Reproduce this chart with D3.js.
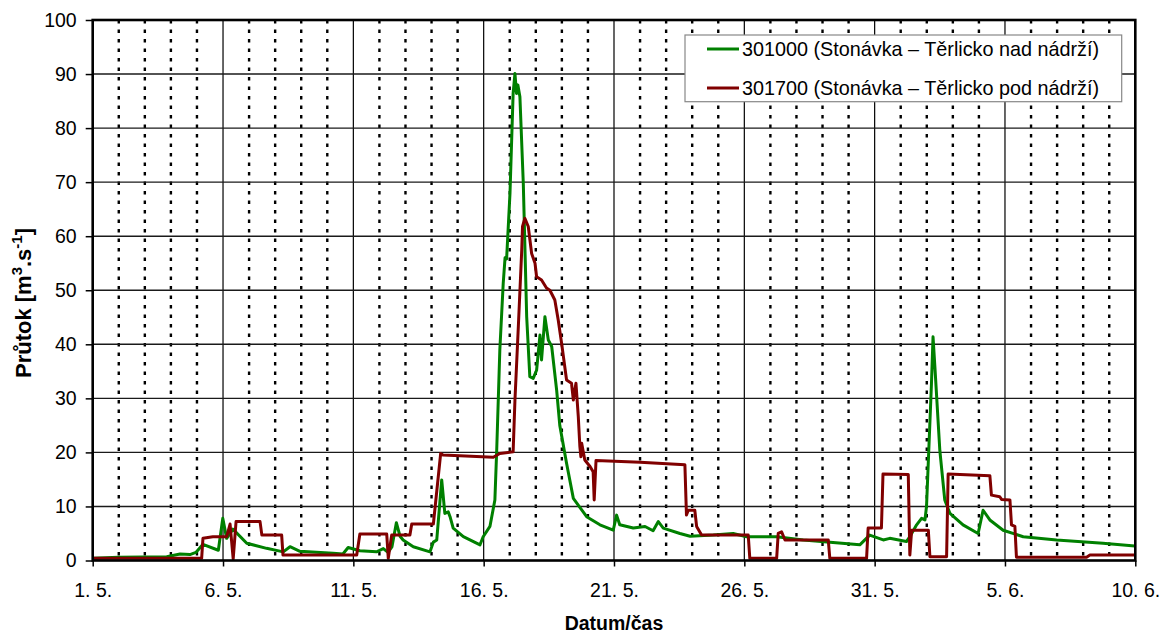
<!DOCTYPE html>
<html>
<head>
<meta charset="utf-8">
<script src="https://cdn.jsdelivr.net/npm/d3@7"></script>
<style>
    body { margin: 0; background: #fff; }
    text { font-family: Arial, "Liberation Sans", sans-serif; fill: #000; }
</style>
</head>
<body>
<div class="prutok"><svg></svg></div>
<script>
// days counted from 1. 5. (0) to 10. 6. (40)
let dayTicks = [0, 5, 10, 15, 20, 25, 30, 35, 40];
let dayLabels = ["1. 5.", "6. 5.", "11. 5.", "16. 5.", "21. 5.", "26. 5.", "31. 5.", "5. 6.", "10. 6."];
let yTicks = [0, 10, 20, 30, 40, 50, 60, 70, 80, 90, 100];

let seriesNames = ["301000 (Stonávka – Těrlicko nad nádrží)", "301700 (Stonávka – Těrlicko pod nádrží)"];
let seriesColors = ["#008000", "#800000"];

// 301000 nad nádrží
let greenDay = [0, 1, 2.84, 3.35, 3.73, 3.96, 4.23, 4.82, 4.99, 5.14, 5.38, 5.91, 6.67, 7.31, 7.57, 7.95, 9.22, 9.6, 9.8, 10.25,
    10.89, 11.15, 11.33, 11.48, 11.65, 11.79, 11.91, 12.3, 12.94, 13.07, 13.2, 13.39, 13.51, 13.64, 13.71, 13.83, 14.22, 14.86,
    14.98, 15.24, 15.43, 15.5, 15.62, 15.75, 15.82, 15.88, 16.01, 16.13, 16.2, 16.26, 16.31, 16.39, 16.52, 16.65, 16.77, 16.9,
    17.03, 17.16, 17.22, 17.35, 17.48, 17.61, 17.8, 17.92, 18.18, 18.44, 18.95, 19.46, 19.97, 20.1, 20.22, 20.74, 21.19, 21.5,
    21.7, 21.89, 22.53, 22.92, 23.81, 24.57, 25.09, 26.24, 27.26, 29.43, 29.81, 30.33, 30.58, 31.22, 31.35, 31.61, 31.8, 31.93,
    31.99, 32.18, 32.24, 32.31, 32.5, 32.69, 32.89, 33.39, 33.97, 34.16, 34.42, 34.93, 35.7, 36.98, 38.76, 39.98];
let greenQ = [0.4, 0.6, 0.7, 1.2, 1.1, 1.5, 3.0, 1.9, 7.8, 4.1, 5.8, 3.2, 2.25, 1.6, 2.55, 1.7, 1.35, 1.2, 2.4, 1.8,
    1.6, 2.2, 1.5, 2.5, 7.0, 4.5, 3.8, 2.55, 1.6, 3.4, 3.8, 14.9, 8.7, 9.0, 8.1, 6.0, 4.4, 2.9,
    4.4, 6.3, 11.2, 20.4, 39, 51.3, 56, 55.8, 68, 86.4, 90.1, 86.4, 88, 85.8, 69.8, 45.1, 34, 33.7,
    35.2, 41.7, 37.1, 45.1, 40.8, 39.6, 31.5, 25, 18, 11.5, 8.1, 6.6, 5.6, 8.4, 6.6, 6.0, 6.3, 5.5,
    7.2, 6.0, 5.0, 4.5, 4.7, 5.0, 4.4, 4.4, 3.8, 2.9, 4.7, 3.8, 4.1, 3.5, 4.4, 6.6, 7.8, 7.5,
    10, 32.8, 41.4, 35.9, 20.4, 11.2, 8.7, 6.6, 5.0, 9.3, 7.5, 5.6, 4.4, 3.8, 3.2, 2.7];

// 301700 pod nádrží
let redDay = [0, 4.18, 4.23, 4.61, 5.14, 5.27, 5.39, 5.5, 6.42, 6.49, 7.25, 7.3, 10.13, 10.25, 11.28, 11.34, 11.47, 12.17,
    12.24, 13.07, 13.35, 13.44, 15.37, 15.62, 16.13, 16.2, 16.33, 16.46, 16.49, 16.58, 16.71, 16.84, 16.97, 17.03, 17.22,
    17.41, 17.54, 17.73, 17.86, 17.99, 18.18, 18.37, 18.44, 18.54, 18.63, 18.69, 18.73, 18.76, 18.88, 19.08, 19.2, 19.24,
    19.31, 21.0, 22.72, 22.78, 22.85, 23.1, 23.17, 23.36, 25.15, 25.21, 26.24, 26.3, 26.43, 26.56, 28.22, 28.28, 29.69,
    29.75, 30.26, 30.32, 31.29, 31.35, 31.42, 32.06, 32.12, 32.76, 32.82, 34.42, 34.48, 34.8, 34.87, 35.19, 35.25, 35.38,
    35.44, 38.13, 38.26, 39.98];
let redQ = [0.4, 0.4, 4.1, 4.4, 4.4, 6.75, 0.3, 7.2, 7.2, 4.7, 4.7, 1.0, 1.0, 4.9, 4.9, 0.4, 4.7, 4.7,
    6.75, 6.75, 19.8, 19.5, 19.1, 19.8, 20.1, 29.7, 43.3, 57.4, 61.8, 63.3, 61.8, 56.8, 55, 52.5, 51.9,
    50.4, 50, 48.2, 44.5, 40.2, 33.4, 32.8, 29.7, 32.8, 26.6, 21.1, 19.2, 21.7, 18.6, 17.4, 16.4, 11.2,
    18.5, 18.2, 17.7, 8.4, 9.3, 9.3, 6.3, 4.7, 4.7, 0.4, 0.4, 5.0, 5.3, 3.8, 3.8, 0.4, 0.4,
    6.0, 6.0, 16.0, 15.9, 1.0, 5.6, 5.6, 0.7, 0.7, 16.0, 15.7, 12.1, 11.8, 11.3, 11.2, 6.6, 6.3,
    0.6, 0.6, 1.0, 1.0];

let svgWidth = 1167;
let svgHeight = 635;
let margin = {left: 92.7, right: 31.7, top: 20, bottom: 74.5};

let svg = d3.select(".prutok").select("svg")
    .attr("width", svgWidth)
    .attr("height", svgHeight);

//Scale
let xScale = d3.scaleLinear()
    .domain([0, 40])
    .range([margin.left, svgWidth - margin.right]);

let yScale = d3.scaleLinear()
    .domain([0, 100])
    .range([svgHeight - margin.bottom, margin.top]);

let plotW = xScale(40) - xScale(0);
let plotH = yScale(0) - yScale(100);

//Grid
svg.append("g")
    .selectAll("line")
    .data(d3.range(1, 40).filter(function(d){ return d % 5 != 0; }))
    .enter()
    .append("line")
    .attr("x1", function(d){ return xScale(d); })
    .attr("x2", function(d){ return xScale(d); })
    .attr("y1", yScale(100))
    .attr("y2", yScale(0))
    .attr("stroke", "#000")
    .attr("stroke-width", 2.4)
    .attr("stroke-dasharray", "3.4,6.1");

svg.append("g")
    .selectAll("line")
    .data(dayTicks.slice(1, -1))
    .enter()
    .append("line")
    .attr("x1", function(d){ return xScale(d); })
    .attr("x2", function(d){ return xScale(d); })
    .attr("y1", yScale(100))
    .attr("y2", yScale(0))
    .attr("stroke", "#000")
    .attr("stroke-width", 1.2);

svg.append("g")
    .selectAll("line")
    .data(yTicks.slice(1, -1))
    .enter()
    .append("line")
    .attr("x1", xScale(0))
    .attr("x2", xScale(40))
    .attr("y1", function(d){ return yScale(d); })
    .attr("y2", function(d){ return yScale(d); })
    .attr("stroke", "#1a1a1a")
    .attr("stroke-width", 1.4);

//Lines
let line = d3.line()
    .x(function(d){ return xScale(d[0]); })
    .y(function(d){ return yScale(d[1]); });

let series = [
    d3.zip(greenDay, greenQ),
    d3.zip(redDay, redQ)
];

// green first, red drawn over it like in the original
series.forEach(function(s, i){
    svg.append("path")
        .datum(s)
        .attr("fill", "none")
        .attr("stroke", seriesColors[i])
        .attr("stroke-width", 3)
        .attr("stroke-linejoin", "round")
        .attr("d", line);
});

//Axis
let xAxis = d3.axisBottom()
    .scale(xScale)
    .tickValues(dayTicks)
    .tickSize(6)
    .tickPadding(17)
    .tickFormat(function(d, i){ return dayLabels[i]; });

let yAxis = d3.axisLeft()
    .scale(yScale)
    .tickValues(yTicks)
    .tickSize(7)
    .tickPadding(9)
    .tickFormat(d3.format("d"));

let gx = svg.append("g")
    .attr("transform", "translate(0," + yScale(0) + ")")
    .call(xAxis);

let gy = svg.append("g")
    .attr("transform", "translate(" + xScale(0) + ",0)")
    .call(yAxis);

[gx, gy].forEach(function(g){
    g.select(".domain").remove();
    g.selectAll("line").attr("stroke", "#000").attr("stroke-width", 1.5);
    g.selectAll("text")
        .style("font-size", "19.5px")
        .style("font-family", "Arial, 'Liberation Sans', sans-serif")
        .attr("fill", "#111");
});

// plot frame
svg.append("rect")
    .attr("x", xScale(0))
    .attr("y", yScale(100))
    .attr("width", plotW)
    .attr("height", plotH)
    .attr("fill", "none")
    .attr("stroke", "#000")
    .attr("stroke-width", 2.6);

//Titles
svg.append("text")
    .attr("x", (xScale(0) + xScale(40)) / 2)
    .attr("y", 630)
    .attr("text-anchor", "middle")
    .style("font-size", "19.5px")
    .style("font-weight", "bold")
    .text("Datum/čas");

let ylab = svg.append("text")
    .attr("transform", "translate(31,303) rotate(-90)")
    .attr("text-anchor", "middle")
    .style("font-size", "22px")
    .style("font-weight", "bold");
ylab.append("tspan").text("Průtok [m");
ylab.append("tspan").attr("dy", -9).style("font-size", "15px").text("3");
ylab.append("tspan").attr("dy", 9).text(".s");
ylab.append("tspan").attr("dy", -9).style("font-size", "15px").text("-1");
ylab.append("tspan").attr("dy", 9).text("]");

//Legend
let legend = svg.append("g")
    .attr("transform", "translate(685,35)");

legend.append("rect")
    .attr("width", 436.7)
    .attr("height", 66.7)
    .attr("fill", "#fff")
    .attr("stroke", "#888")
    .attr("stroke-width", 1.2);

let rows = legend.selectAll(".row")
    .data(seriesNames)
    .enter()
    .append("g")
    .attr("class", "row")
    .attr("transform", function(d, i){ return "translate(0," + (14 + i * 39) + ")"; });

rows.append("line")
    .attr("x1", 22)
    .attr("x2", 54)
    .attr("stroke", function(d, i){ return seriesColors[i]; })
    .attr("stroke-width", 3);

rows.append("text")
    .attr("x", 57)
    .attr("dy", "0.35em")
    .style("font-size", "19.8px")
    .attr("fill", "#111")
    .text(function(d){ return d; });
</script>
</body>
</html>
